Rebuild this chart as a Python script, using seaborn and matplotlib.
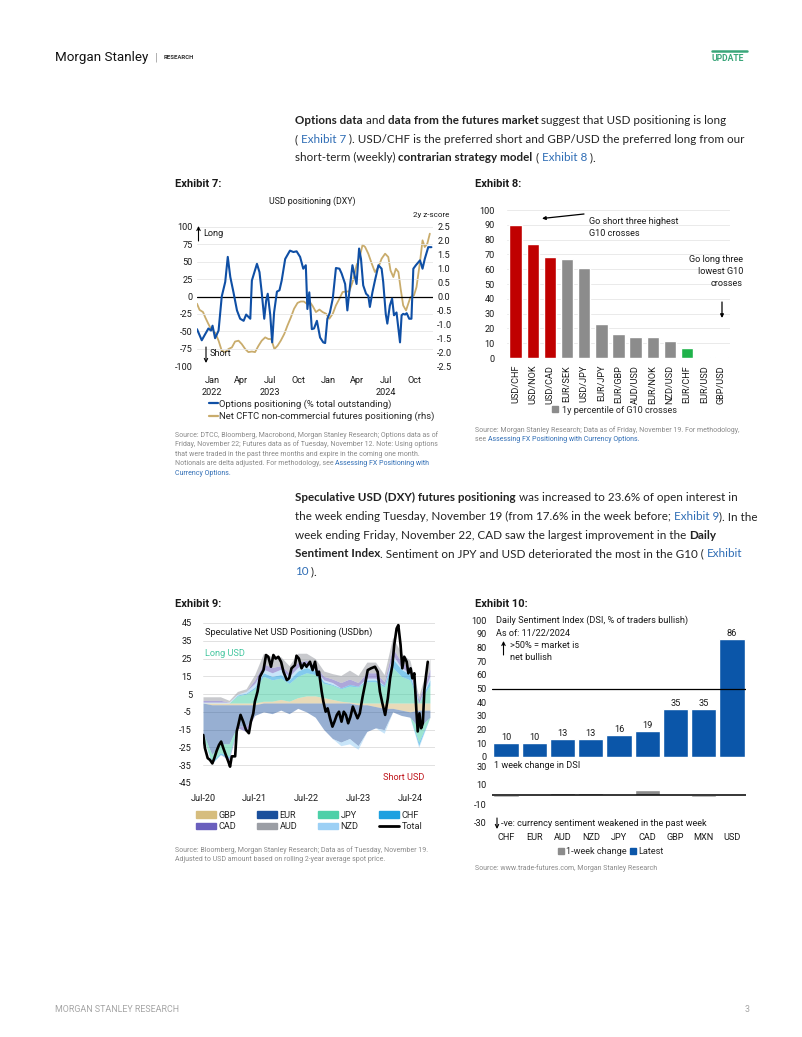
import matplotlib
matplotlib.use("Agg")
import numpy as np
import pandas as pd
import matplotlib.pyplot as plt
from matplotlib.patches import Patch
from matplotlib.lines import Line2D
import seaborn as sns

# ---------------- Exhibit 7: USD positioning (DXY) ----------------
opt_dates = ['2022-11-14', '2022-11-29', '2022-12-10', '2022-12-20', '2022-12-28', '2023-01-02',
             '2023-01-10', '2023-01-21', '2023-01-31', '2023-02-11', '2023-02-19', '2023-02-27',
             '2023-03-09', '2023-03-20', '2023-03-30', '2023-04-10', '2023-04-18', '2023-05-01',
             '2023-05-06', '2023-05-14', '2023-05-22', '2023-05-30', '2023-06-06', '2023-06-14',
             '2023-06-20', '2023-06-25', '2023-07-03', '2023-07-09', '2023-07-15', '2023-07-24',
             '2023-08-01', '2023-08-08', '2023-08-19', '2023-09-03', '2023-09-14', '2023-09-24',
             '2023-10-05', '2023-10-15', '2023-10-23', '2023-10-28', '2023-11-03', '2023-11-11',
             '2023-11-18', '2023-11-27', '2023-12-07', '2023-12-17', '2023-12-23', '2023-12-30',
             '2024-01-07', '2024-01-16', '2024-01-26', '2024-02-06', '2024-02-13', '2024-02-24',
             '2024-03-02', '2024-03-08', '2024-03-18', '2024-03-26', '2024-03-31', '2024-04-08',
             '2024-04-14', '2024-04-21', '2024-04-30', '2024-05-07', '2024-05-12', '2024-05-20',
             '2024-05-28', '2024-06-08', '2024-06-18', '2024-06-23', '2024-07-01', '2024-07-06',
             '2024-07-14', '2024-07-21', '2024-07-27', '2024-08-04', '2024-08-15', '2024-08-20',
             '2024-08-25', '2024-08-31', '2024-09-05', '2024-09-13', '2024-09-20', '2024-09-26',
             '2024-10-04', '2024-10-17', '2024-10-25', '2024-11-01', '2024-11-12', '2024-11-22']
opt_values = [-47, -63, -54, -46, -49, -42, -60, -49, 0, 21, 57, 28, 6, -20, -32, -35, -26, -32,
              23, 35, 47, 35, 6, -32, -6, 4, -27, -66, -23, 7, 9, 23, 54, 66, 64, 65, 57, 40, 45,
              -18, 6, -47, -46, -35, -59, -66, -67, -32, -23, -3, 41, 40, 33, 18, -20, 6, 45, 28,
              18, 69, 54, 16, 4, 1, -15, 6, 23, 45, 40, 21, -25, -39, -13, -3, -27, -23, -66, -27,
              -25, -26, -24, -32, -32, 40, 45, 52, 40, 54, 71, 71]

cftc_dates = ['2022-11-14', '2022-11-22', '2022-12-03', '2022-12-10', '2022-12-20', '2022-12-31',
              '2023-01-10', '2023-01-21', '2023-01-31', '2023-02-11', '2023-02-21', '2023-03-04',
              '2023-03-14', '2023-03-25', '2023-04-04', '2023-04-15', '2023-04-25', '2023-05-06',
              '2023-05-16', '2023-05-27', '2023-06-06', '2023-06-17', '2023-06-27', '2023-07-06',
              '2023-07-16', '2023-07-26', '2023-08-05', '2023-08-16', '2023-08-26', '2023-09-06',
              '2023-09-16', '2023-09-27', '2023-10-07', '2023-10-17', '2023-10-26', '2023-11-05',
              '2023-11-14', '2023-11-24', '2023-12-05', '2023-12-15', '2023-12-26', '2024-01-05',
              '2024-01-16', '2024-01-26', '2024-02-06', '2024-02-16', '2024-02-27', '2024-03-08',
              '2024-03-19', '2024-03-31', '2024-04-11', '2024-04-19', '2024-04-27', '2024-05-07',
              '2024-05-18', '2024-05-28', '2024-06-08', '2024-06-18', '2024-06-29', '2024-07-09',
              '2024-07-16', '2024-07-25', '2024-08-02', '2024-08-10', '2024-08-17', '2024-08-25',
              '2024-09-03', '2024-09-10', '2024-09-17', '2024-09-28', '2024-10-06', '2024-10-17',
              '2024-10-25', '2024-11-01', '2024-11-09', '2024-11-17']
cftc_values = [-0.26, -0.48, -0.56, -0.75, -0.99, -1.23, -1.29, -1.59, -1.95, -2.00, -1.89, -1.83,
               -1.62, -1.59, -1.71, -1.89, -2.00, -1.98, -2.00, -1.77, -1.59, -1.47, -1.53, -1.53,
               -1.89, -1.77, -1.59, -1.35, -1.05, -0.75, -0.44, -0.23, -0.18, -0.18, -0.26, -0.20,
               -0.35, -0.56, -0.47, -0.56, -0.62, -0.80, -0.62, -0.32, -0.08, 0.16, 0.18, 0.18,
               0.54, 1.12, 1.48, 1.86, 1.78, 1.54, 1.18, 0.88, 1.06, 1.36, 1.54, 1.42, 0.94, 0.70,
               1.00, 0.88, 0.28, -0.32, -0.50, -0.26, -0.02, 0.04, 0.34, 1.24, 2.02, 1.78, 1.90, 2.26]

ex7_tick_dates = ['2023-01-01', '2023-04-01', '2023-07-01', '2023-10-01',
                  '2024-01-01', '2024-04-01', '2024-07-01', '2024-10-01']
ex7_tick_labels = ['Jan\n2022', 'Apr', 'Jul\n2023', 'Oct', 'Jan', 'Apr', 'Jul\n2024', 'Oct']

# ---------------- Exhibit 8: 1y percentile of G10 crosses ----------------
cross_names = ['USD/CHF', 'USD/NOK', 'USD/CAD', 'EUR/SEK', 'USD/JPY', 'EUR/JPY', 'EUR/GBP',
               'AUD/USD', 'EUR/NOK', 'NZD/USD', 'EUR/CHF', 'EUR/USD', 'GBP/USD']
cross_pctl = [90, 77, 68, 67, 61, 23, 16.5, 14.5, 14, 11.5, 7, 0.5, 0.5]

# ---------------- Exhibit 9: speculative net USD positioning (USDbn) ----------------
spec_dates = ['2020-07-01', '2020-09-01', '2020-11-01', '2021-01-01', '2021-03-01', '2021-05-01',
              '2021-07-01', '2021-09-01', '2021-11-01', '2022-01-01', '2022-03-01', '2022-05-01',
              '2022-07-01', '2022-09-01', '2022-11-01', '2023-01-01', '2023-03-01', '2023-05-01',
              '2023-07-01', '2023-09-01', '2023-11-01', '2024-01-01', '2024-03-01', '2024-05-01',
              '2024-07-01', '2024-09-01', '2024-11-19']
spec_gbp = [0, -1, -1, -1, -1, -1, -1, 1, 1, 2, 1, 3, 4, 4, 3, 2, 1, 0.5, -1, -1, -2, -3, -3, -4, -5, -4, -4]
spec_eur = [-17, -28, -22, -22, -12, -12, -6, -5, -6, -4, -6, -3, -5, -8, -15, -20, -22, -20, -23,
            -15, -12, -12, -2, -3, -3, -10, -4]
spec_jpy = [-2, -4, -5, -7, 4, 5, 8, 14, 12, 12, 10, 12, 13, 12, 8, 8, 7, 9, 9, 12, 12, 9, 20, 15, 13, -8, 10]
spec_chf = [0, -1, -1, -1, 0.5, 0.5, 1, 2, 2, 2, 2, 3, 3, 2, 1, 0.5, 0.5, 1, 0.5, 1, 1, 1, 5, 4, 3, -2, 3]
spec_cad = [1, 1, 1, -1, -1, -3, 2, 3, 3, 2, 2, 3, 2, 2, 2, 2, 3, 3, 2, 3, 3, 2, 4, 3, 3, 2, 4]
spec_aud = [2, 2, 2, 1, 1.5, 1.5, 3, 6, 6, 5, 4, 5, 4, 4, 3, 3, 4, 5, 4, 6, 6, 4, 6, 5, 4, 2, 6]
spec_nzd = [0.5, 0.5, 0.5, 0.5, 0.5, 1, 2, 2, 2, 3, 2, 2, 2, 1, 1, 1, -2, -3, -2, 1, 1, -2, 2, 1, 1, -1, 2]

total_dates = ['2020-07-03', '2020-07-15', '2020-08-03', '2020-08-19', '2020-09-05', '2020-09-19',
               '2020-10-05', '2020-10-22', '2020-11-06', '2020-11-22', '2020-12-08', '2020-12-27',
               '2021-01-08', '2021-01-20', '2021-02-13', '2021-02-24', '2021-03-07', '2021-03-23',
               '2021-04-11', '2021-04-30', '2021-05-21', '2021-06-04', '2021-06-21', '2021-07-02',
               '2021-07-21', '2021-08-07', '2021-09-01', '2021-09-19', '2021-10-05', '2021-10-24',
               '2021-11-10', '2021-11-26', '2021-12-15', '2022-01-04', '2022-01-20', '2022-02-13',
               '2022-03-01', '2022-03-18', '2022-04-11', '2022-04-22', '2022-05-09', '2022-05-28',
               '2022-06-16', '2022-07-02', '2022-07-26', '2022-08-14', '2022-08-31', '2022-09-16',
               '2022-09-28', '2022-10-17', '2022-10-29', '2022-11-14', '2022-11-28', '2022-12-15',
               '2023-01-01', '2023-01-15', '2023-02-01', '2023-02-16', '2023-03-06', '2023-03-22',
               '2023-04-06', '2023-04-22', '2023-05-08', '2023-05-25', '2023-06-08', '2023-06-27',
               '2023-07-13', '2023-08-02', '2023-08-18', '2023-09-07', '2023-09-30', '2023-10-28',
               '2023-11-16', '2023-12-02', '2023-12-19', '2024-01-08', '2024-01-27', '2024-02-12',
               '2024-02-28', '2024-03-12', '2024-03-29', '2024-04-10', '2024-04-26', '2024-05-08',
               '2024-05-22', '2024-06-08', '2024-06-20', '2024-07-06', '2024-07-18', '2024-08-01',
               '2024-08-16', '2024-08-25', '2024-09-06', '2024-09-18', '2024-09-30', '2024-10-11',
               '2024-10-23', '2024-11-04']
total_values = [-18, -25.5, -31, -32, -34, -31, -27, -23.6, -21.7, -25.5, -29, -33, -35.8, -30, -30,
                -16, -12.4, -6.7, -10.5, -15, -17, -10.5, -5.8, 0.7, 6.4, 14.8, 18.5, 27, 26, 20.4,
                27, 25, 26, 23, 17.6, 12.9, 13.9, 19.5, 21.3, 26.6, 25, 19.5, 22.3, 20.4, 23.2, 18.5,
                23.2, 15.7, 17.6, 6.4, 0.7, -4.9, -3, -8.6, -13.3, -10.5, -6.7, -4.9, -10.5, -4.9,
                -6.7, -11.4, -7.7, -2, -4.9, -8.6, -5.8, 3.6, 10, 18.5, 19.5, 20.4, 17.6, 6.4, 0,
                -6.7, 2.6, 13.9, 21.3, 32.6, 41.9, 43.8, 32.6, 19.5, 26, 23.2, 16.7, 19.5, 13.9,
                16.7, -4.9, -16, -5.8, -14.2, -11.4, 7.3, 15.7, 23.2]

# ---------------- Exhibit 10: Daily Sentiment Index ----------------
dsi_ccy = ['CHF', 'EUR', 'AUD', 'NZD', 'JPY', 'CAD', 'GBP', 'MXN', 'USD']
dsi_latest = [10, 10, 13, 13, 16, 19, 35, 35, 86]
dsi_change = [-3, 0, 2, 2, -1, 5, 0, -3, -1]

# ---------------- styling ----------------
W, H = 802, 1037
TXT = '#1a1a1a'
GREY_TXT = '#8a8a8a'
LINK = '#2f6db5'
CHART_FONT = ['Roboto', 'DejaVu Sans']
BODY_FONT = ['Lato', 'DejaVu Sans']
FS = 6.6      # chart text size
SRC = 5.0     # source note size

sns.set_theme(style='white')
plt.rcParams['font.family'] = CHART_FONT
plt.rcParams['axes.unicode_minus'] = False
plt.rcParams['xtick.color'] = TXT
plt.rcParams['ytick.color'] = TXT

fig = plt.figure(figsize=(W / 100, H / 100), dpi=100)
fig.patch.set_facecolor('white')
renderer = fig.canvas.get_renderer()


def fx(x):
    return x / W


def fy(y):
    return 1 - y / H


def axes_px(x0, y0, x1, y1):
    return fig.add_axes([fx(x0), fy(y1), (x1 - x0) / W, (y1 - y0) / H])


def txt(x, y, s, size=FS, ha='left', va='center', color=TXT, weight='normal', family=None, **kw):
    return fig.text(fx(x), fy(y), s, fontsize=size, ha=ha, va=va, color=color,
                    fontweight=weight, family=family or CHART_FONT, **kw)


def arrow(ax, x0, y0, x1, y1, style='->', lw=0.8, scale=6):
    ax.annotate('', xy=(fx(x1), fy(y1)), xytext=(fx(x0), fy(y0)), xycoords='figure fraction',
                textcoords='figure fraction', annotation_clip=False,
                arrowprops=dict(arrowstyle=style, lw=lw, color='black', mutation_scale=scale,
                                shrinkA=0, shrinkB=0))


def run_width(s, kw):
    a = fig.text(0, 0, '|' + s + '|', **kw)
    b = fig.text(0, 0, '||', **kw)
    w = a.get_window_extent(renderer).width - b.get_window_extent(renderer).width
    a.remove()
    b.remove()
    return w


def rich_line(x, y, runs, size=8.33):
    for s, style in runs:
        kw = dict(fontsize=size, family=BODY_FONT, color='#222222', va='baseline')
        if style == 'b':
            kw['fontweight'] = 'bold'
        elif style == 'a':
            kw['color'] = LINK
        fig.text(fx(x), fy(y), s, **kw)
        x += run_width(s, kw)


def clean(ax):
    for sp in ax.spines.values():
        sp.set_visible(False)
    ax.tick_params(length=0, labelsize=FS, colors=TXT)
    ax.set_xlabel('')
    ax.set_ylabel('')


# ---------------- page header / footer ----------------
txt(55, 57, 'Morgan Stanley', size=9.6, family=['Liberation Sans Narrow', 'Roboto'], color='#111111')
txt(155, 57, '|', size=8, color='#999999')
txt(164, 57.5, 'RESEARCH', size=4.3, weight='bold', color='#333333')
txt(712, 58.5, 'UPDATE', size=6.2, weight='bold', color='#3aa67a')
fig.add_artist(Line2D([fx(712), fx(747)], [fy(50.5), fy(50.5)], color='#3aa67a', lw=1.8))
txt(55, 1009, 'MORGAN STANLEY RESEARCH', size=6.4, color='#a5a5a5')
txt(745, 1009, '3', size=6.4, color='#a5a5a5')

# ---------------- body text ----------------
rich_line(295, 124, [('Options data', 'b'), (' and ', 'n'), ('data from the futures market', 'b'),
                     (' suggest that USD positioning is long', 'n')])
rich_line(295, 143, [('( ', 'n'), ('Exhibit 7', 'a'),
                     (' ). USD/CHF is the preferred short and GBP/USD the preferred long from our', 'n')])
rich_line(295, 161, [('short-term (weekly) ', 'n'), ('contrarian strategy model', 'b'), (' ( ', 'n'),
                     ('Exhibit 8', 'a'), (' ).', 'n')])

rich_line(295, 501, [('Speculative USD (DXY) futures positioning', 'b'),
                     (' was increased to 23.6% of open interest in', 'n')])
rich_line(295, 520, [('the week ending Tuesday, November 19 (from 17.6% in the week before; ', 'n'),
                     ('Exhibit 9', 'a'), ('). In the', 'n')])
rich_line(295, 539, [('week ending Friday, November 22, CAD saw the largest improvement in the ', 'n'),
                     ('Daily', 'b')])
rich_line(295, 557, [('Sentiment Index', 'b'),
                     ('. Sentiment on JPY and USD deteriorated the most in the G10 ( ', 'n'),
                     ('Exhibit', 'a')])
rich_line(295, 575, [('10', 'a'), (' ).', 'n')])

# ---------------- Exhibit 7 ----------------
BLUE7 = '#0f4fa5'
GOLD7 = '#c9ac6c'
txt(175, 184, 'Exhibit 7:', size=8, weight='bold')
txt(312, 201, 'USD positioning (DXY)', size=6.3, ha='center')
txt(431, 215.5, '2y z-score', size=5.8, ha='center')

ax7 = axes_px(197, 227, 433, 366)
ax7.grid(axis='y', color='#e6e6e6', lw=0.6)
ax7.set_axisbelow(True)
sns.lineplot(x=pd.to_datetime(opt_dates), y=opt_values, ax=ax7, color=BLUE7, lw=1.5, estimator=None)
ax7.axhline(0, color='black', lw=0.9, zorder=1)
ax7.set_ylim(-100, 100)
ax7.set_yticks(range(-100, 101, 25))
ax7.set_xlim(pd.Timestamp('2022-11-14'), pd.Timestamp('2024-11-27'))
ax7.set_xticks(pd.to_datetime(ex7_tick_dates))
ax7.set_xticklabels(ex7_tick_labels)
clean(ax7)
ax7.tick_params(axis='y', pad=3)
ax7.tick_params(axis='x', pad=7)
for lbl in ax7.get_xticklabels():
    lbl.set_linespacing(1.45)

ax7r = ax7.twinx()
sns.lineplot(x=pd.to_datetime(cftc_dates), y=cftc_values, ax=ax7r, color=GOLD7, lw=1.3, estimator=None)
ax7r.set_ylim(-2.5, 2.5)
ax7r.set_yticks(np.arange(-2.5, 2.51, 0.5))
ax7r.set_yticklabels([f'{v:.1f}' for v in np.arange(-2.5, 2.51, 0.5)])
clean(ax7r)
ax7r.tick_params(axis='y', pad=3)
ax7.set_zorder(ax7r.get_zorder() + 1)
ax7.patch.set_visible(False)

txt(203, 234, 'Long', size=FS)
arrow(ax7, 198.5, 241, 198.5, 226)
txt(210, 354, 'Short', size=FS)
arrow(ax7, 206, 347, 206, 363)

ax7.legend(handles=[Line2D([], [], color=BLUE7, lw=1.6), Line2D([], [], color=GOLD7, lw=1.6)],
           labels=['Options positioning (% total outstanding)',
                   'Net CFTC non-commercial futures positioning (rhs)'],
           loc='upper left', bbox_to_anchor=(fx(209), fy(399)), bbox_transform=fig.transFigure,
           frameon=False, fontsize=6.8, handlelength=0.95, handletextpad=0.15, labelspacing=0.3,
           borderpad=0, borderaxespad=0)

src7 = ['Source: DTCC, Bloomberg, Macrobond, Morgan Stanley Research; Options data as of',
        'Friday, November 22; Futures data as of Tuesday, November 12. Note: Using options',
        'that were traded in the past three months and expire in the coming one month.']
for i, line in enumerate(src7):
    txt(175, 435 + i * 9.6, line, size=SRC, color=GREY_TXT)
txt(175, 435 + 3 * 9.6, 'Notionals are delta adjusted. For methodology, see ', size=SRC, color=GREY_TXT)
w = run_width('Notionals are delta adjusted. For methodology, see ',
              dict(fontsize=SRC, family=CHART_FONT))
txt(175 + w, 435 + 3 * 9.6, 'Assessing FX Positioning with', size=SRC, color=LINK)
txt(175, 435 + 4 * 9.6, 'Currency Options.', size=SRC, color=LINK)

# ---------------- Exhibit 8 ----------------
txt(475, 184, 'Exhibit 8:', size=8, weight='bold')
order = np.argsort(np.argsort(-np.array(cross_pctl), kind='stable'), kind='stable')
n = len(cross_pctl)
bar_cols = ['#c00000' if r < 3 else ('#1fb24a' if r >= n - 3 else '#8c8c8c') for r in order]

ax8 = axes_px(507, 210, 730, 358)
ax8.grid(axis='y', color='#e6e6e6', lw=0.6)
ax8.set_axisbelow(True)
sns.barplot(x=cross_names, y=cross_pctl, hue=cross_names, palette=bar_cols, legend=False,
            width=0.72, saturation=1, ax=ax8)
ax8.set_ylim(0, 100)
ax8.set_yticks(range(0, 101, 10))
ax8.set_xlim(-0.5, n - 0.5)
clean(ax8)
ax8.tick_params(axis='x', rotation=90, pad=5)
ax8.tick_params(axis='y', pad=9)

arrow(ax8, 584, 214, 542, 218.5, style='-|>', lw=0.9, scale=5)
txt(589, 221, 'Go short three highest', size=FS)
txt(589, 233, 'G10 crosses', size=FS)
txt(743, 259, 'Go long three', size=FS, ha='right')
txt(743, 271, 'lowest G10', size=FS, ha='right')
txt(743, 283, 'crosses', size=FS, ha='right')
arrow(ax8, 722, 302, 722, 318, style='-|>', lw=0.9, scale=5)
ax8.legend(handles=[Patch(color='#8c8c8c')], labels=['1y percentile of G10 crosses'],
           loc='center left', bbox_to_anchor=(fx(552), fy(410)), bbox_transform=fig.transFigure,
           frameon=False, fontsize=FS, handlelength=0.65, handleheight=0.65, handletextpad=0.4,
           borderpad=0, borderaxespad=0)
txt(475, 430, 'Source: Morgan Stanley Research; Data as of Friday, November 19. For methodology,',
    size=SRC, color=GREY_TXT)
w = run_width('see ', dict(fontsize=SRC, family=CHART_FONT))
txt(475, 439.5, 'see ', size=SRC, color=GREY_TXT)
txt(475 + w, 439.5, 'Assessing FX Positioning with Currency Options.', size=SRC, color=LINK)

# ---------------- Exhibit 9 ----------------
txt(175, 604, 'Exhibit 9:', size=8, weight='bold')
ccy_stack = [('GBP', spec_gbp, '#d6bd7e'), ('EUR', spec_eur, '#1a4f9c'), ('JPY', spec_jpy, '#4dd0a8'),
             ('CHF', spec_chf, '#1da0e0'), ('NZD', spec_nzd, '#9cd0f5'), ('CAD', spec_cad, '#6a5fbd'),
             ('AUD', spec_aud, '#9b9ea5')]
sd = pd.to_datetime(spec_dates)

ax9 = axes_px(203, 623, 435, 783)
ax9.grid(axis='y', color='#dcdcdc', lw=0.6)
ax9.set_axisbelow(True)
pos_base = np.zeros(len(sd))
neg_base = np.zeros(len(sd))
for name, vals, col in ccy_stack:
    v = np.array(vals, dtype=float)
    p = np.clip(v, 0, None)
    q = np.clip(v, None, 0)
    a = 0.45 if name == 'EUR' else 0.55
    ax9.fill_between(sd, pos_base, pos_base + p, color=col, alpha=a, lw=0)
    ax9.fill_between(sd, neg_base, neg_base + q, color=col, alpha=a, lw=0)
    pos_base = pos_base + p
    neg_base = neg_base + q
sns.lineplot(x=pd.to_datetime(total_dates), y=total_values, ax=ax9, color='black', lw=1.9,
             estimator=None)
ax9.set_ylim(-45, 45)
ax9.set_yticks(range(-45, 46, 10))
ax9.set_xlim(pd.Timestamp('2020-07-01'), pd.Timestamp('2024-12-25'))
ax9.set_xticks(pd.to_datetime(['2020-07-01', '2021-07-01', '2022-07-01', '2023-07-01', '2024-07-01']))
ax9.set_xticklabels(['Jul-20', 'Jul-21', 'Jul-22', 'Jul-23', 'Jul-24'])
clean(ax9)
ax9.tick_params(axis='y', pad=8)
ax9.tick_params(axis='x', pad=8)
txt(205, 632, 'Speculative Net USD Positioning (USDbn)', size=FS)
txt(205, 653, 'Long USD', size=FS, color='#45c7a0')
txt(383, 777, 'Short USD', size=FS, color='#c0171d')

leg_cols = {name: col for name, _, col in ccy_stack}
leg_order = ['GBP', 'CAD', 'EUR', 'AUD', 'JPY', 'NZD', 'CHF', 'Total']
handles = [Line2D([], [], color='black', lw=2) if k == 'Total' else Patch(color=leg_cols[k])
           for k in leg_order]
ax9.legend(handles=handles, labels=leg_order, ncol=4, loc='upper left',
           bbox_to_anchor=(fx(196), fy(810.5)), bbox_transform=fig.transFigure, frameon=False,
           fontsize=FS, handlelength=2.2, handleheight=0.75, handletextpad=0.3,
           columnspacing=2.2, labelspacing=0.3, borderpad=0, borderaxespad=0)
txt(175, 850, 'Source: Bloomberg, Morgan Stanley Research; Data as of Tuesday, November 19.',
    size=SRC, color=GREY_TXT)
txt(175, 859.5, 'Adjusted to USD amount based on rolling 2-year average spot price.',
    size=SRC, color=GREY_TXT)

# ---------------- Exhibit 10 ----------------
BLUE10 = '#0b56a9'
GREY10 = '#8c8c8c'
txt(475, 604, 'Exhibit 10:', size=8, weight='bold')
ax10 = axes_px(492, 620, 746, 757)
sns.barplot(x=dsi_ccy, y=dsi_latest, color=BLUE10, width=0.9, saturation=1, ax=ax10)
ax10.bar_label(ax10.containers[0], fontsize=FS, padding=1, color=TXT)
ax10.axhline(50, color='black', lw=0.9)
ax10.set_ylim(0, 100)
ax10.set_yticks(range(0, 101, 10))
ax10.set_xlim(-0.5, len(dsi_ccy) - 0.5)
clean(ax10)
ax10.set_xticklabels([])
ax10.tick_params(axis='y', pad=4)
txt(496, 620, 'Daily Sentiment Index (DSI, % of traders bullish)', size=FS)
txt(496, 634, 'As of: 11/22/2024', size=FS)
txt(510, 646, '>50% = market is', size=FS)
txt(510, 657.5, 'net bullish', size=FS)
arrow(ax10, 503.5, 655, 503.5, 641)

ax10b = axes_px(492, 766, 746, 823)
sns.barplot(x=dsi_ccy, y=dsi_change, color=GREY10, width=0.9, saturation=1, ax=ax10b)
ax10b.axhline(0, color='black', lw=1.1)
ax10b.set_ylim(-30, 30)
ax10b.set_yticks([-30, -10, 10, 30])
ax10b.set_xlim(-0.5, len(dsi_ccy) - 0.5)
clean(ax10b)
ax10b.tick_params(axis='y', pad=4)
ax10b.tick_params(axis='x', pad=7)
txt(494, 766, '1 week change in DSI', size=FS)
txt(501, 823, '-ve: currency sentiment weakened in the past week', size=FS)
arrow(ax10b, 497, 818, 497, 829)
ax10b.legend(handles=[Patch(color=GREY10), Patch(color=BLUE10)], labels=['1-week change', 'Latest'],
             ncol=2, loc='center', bbox_to_anchor=(fx(611), fy(852)), bbox_transform=fig.transFigure,
             frameon=False, fontsize=FS, handlelength=0.65, handleheight=0.65, handletextpad=0.2,
             columnspacing=0.4, borderpad=0, borderaxespad=0)
txt(475, 868, 'Source: www.trade-futures.com, Morgan Stanley Research', size=SRC, color=GREY_TXT)

fig.savefig('out.png', dpi=100, facecolor='white')
